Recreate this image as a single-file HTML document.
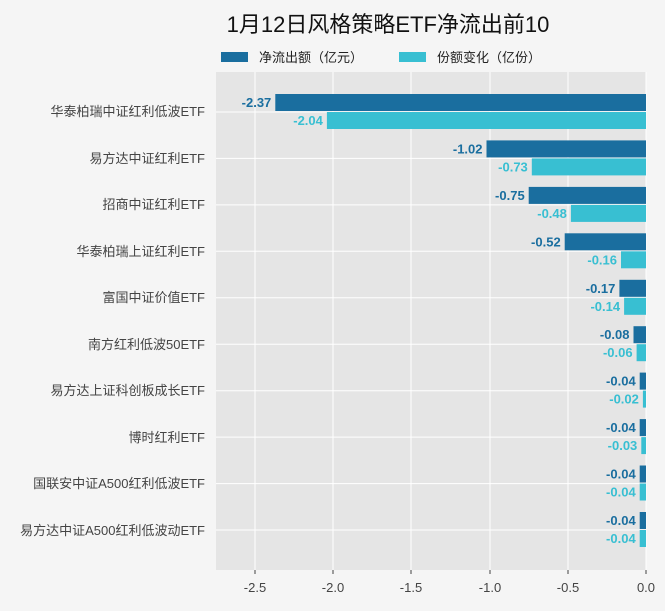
<!DOCTYPE html>
<html><head><meta charset="utf-8"><style>
body{margin:0;background:#f5f5f5;}
svg text{font-family:"Liberation Sans","Noto Sans CJK SC",sans-serif;}
</style></head><body>
<svg width="665" height="606" xmlns="http://www.w3.org/2000/svg">
<rect width="665" height="606" fill="#f5f5f5"/>
<text x="388" y="32" font-size="22" text-anchor="middle" fill="#111">1月12日风格策略ETF净流出前10</text>
<rect x="221" y="52" width="27" height="10" fill="#1a6e9f"/>
<text x="259" y="62" font-size="13" fill="#222">净流出额（亿元）</text>
<rect x="399" y="52" width="27" height="10" fill="#38bfd2"/>
<text x="437" y="62" font-size="13" fill="#222">份额变化（亿份）</text>
<rect x="216" y="72" width="430" height="498" fill="#e5e5e5"/>
<g stroke="#fff" stroke-width="1">
<line x1="255" y1="72" x2="255" y2="570"/><line x1="333" y1="72" x2="333" y2="570"/><line x1="411" y1="72" x2="411" y2="570"/><line x1="490" y1="72" x2="490" y2="570"/><line x1="568" y1="72" x2="568" y2="570"/><line x1="646" y1="72" x2="646" y2="570"/>
<line x1="216" y1="112" x2="646" y2="112"/><line x1="216" y1="158.4" x2="646" y2="158.4"/><line x1="216" y1="204.9" x2="646" y2="204.9"/><line x1="216" y1="251.3" x2="646" y2="251.3"/><line x1="216" y1="297.8" x2="646" y2="297.8"/><line x1="216" y1="344.2" x2="646" y2="344.2"/><line x1="216" y1="390.7" x2="646" y2="390.7"/><line x1="216" y1="437.1" x2="646" y2="437.1"/><line x1="216" y1="483.6" x2="646" y2="483.6"/><line x1="216" y1="530" x2="646" y2="530"/>
</g>
<g stroke="#444">
<line x1="255" y1="570" x2="255" y2="574"/><line x1="333" y1="570" x2="333" y2="574"/><line x1="411" y1="570" x2="411" y2="574"/><line x1="490" y1="570" x2="490" y2="574"/><line x1="568" y1="570" x2="568" y2="574"/><line x1="646" y1="570" x2="646" y2="574"/>
</g>
<g font-size="13" fill="#444" text-anchor="middle">
<text x="255" y="592">-2.5</text><text x="333" y="592">-2.0</text><text x="411" y="592">-1.5</text><text x="490" y="592">-1.0</text><text x="568" y="592">-0.5</text><text x="646" y="592">0.0</text>
</g>
<g font-size="13" fill="#444" text-anchor="end">
<text x="205" y="116">华泰柏瑞中证红利低波ETF</text>
<text x="205" y="163">易方达中证红利ETF</text>
<text x="205" y="209">招商中证红利ETF</text>
<text x="205" y="256">华泰柏瑞上证红利ETF</text>
<text x="205" y="302">富国中证价值ETF</text>
<text x="205" y="349">南方红利低波50ETF</text>
<text x="205" y="395">易方达上证科创板成长ETF</text>
<text x="205" y="442">博时红利ETF</text>
<text x="205" y="488">国联安中证A500红利低波ETF</text>
<text x="205" y="535">易方达中证A500红利低波动ETF</text>
</g>
<g fill="#1a6e9f">
<rect x="275.3" y="94" width="370.7" height="17"/>
<rect x="486.5" y="140.4" width="159.5" height="17"/>
<rect x="528.7" y="186.9" width="117.3" height="17"/>
<rect x="564.7" y="233.3" width="81.3" height="17"/>
<rect x="619.4" y="279.8" width="26.6" height="17"/>
<rect x="633.5" y="326.2" width="12.5" height="17"/>
<rect x="639.7" y="372.6" width="6.3" height="17"/>
<rect x="639.7" y="419.1" width="6.3" height="17"/>
<rect x="639.7" y="465.5" width="6.3" height="17"/>
<rect x="639.7" y="512" width="6.3" height="17"/>
</g>
<g fill="#38bfd2">
<rect x="326.9" y="112" width="319.1" height="17"/>
<rect x="531.8" y="158.4" width="114.2" height="17"/>
<rect x="570.9" y="204.9" width="75.1" height="17"/>
<rect x="621" y="251.3" width="25" height="17"/>
<rect x="624.1" y="297.8" width="21.9" height="17"/>
<rect x="636.6" y="344.2" width="9.4" height="17"/>
<rect x="642.9" y="390.6" width="3.1" height="17"/>
<rect x="641.3" y="437.1" width="4.7" height="17"/>
<rect x="639.7" y="483.5" width="6.3" height="17"/>
<rect x="639.7" y="530" width="6.3" height="17"/>
</g>
<g font-size="13" font-weight="bold" text-anchor="end" fill="#1a6e9f">
<text x="271.3" y="107">-2.37</text>
<text x="482.5" y="153.4">-1.02</text>
<text x="524.7" y="199.9">-0.75</text>
<text x="560.7" y="246.3">-0.52</text>
<text x="615.4" y="292.8">-0.17</text>
<text x="629.5" y="339.2">-0.08</text>
<text x="635.7" y="385.6">-0.04</text>
<text x="635.7" y="432.1">-0.04</text>
<text x="635.7" y="478.5">-0.04</text>
<text x="635.7" y="525">-0.04</text>
</g>
<g font-size="13" font-weight="bold" text-anchor="end" fill="#38bfd2">
<text x="322.9" y="125">-2.04</text>
<text x="527.8" y="171.4">-0.73</text>
<text x="566.9" y="217.9">-0.48</text>
<text x="617" y="264.3">-0.16</text>
<text x="620.1" y="310.8">-0.14</text>
<text x="632.6" y="357.2">-0.06</text>
<text x="638.9" y="403.6">-0.02</text>
<text x="637.3" y="450.1">-0.03</text>
<text x="635.7" y="496.5">-0.04</text>
<text x="635.7" y="543">-0.04</text>
</g>
</svg>
</body></html>
